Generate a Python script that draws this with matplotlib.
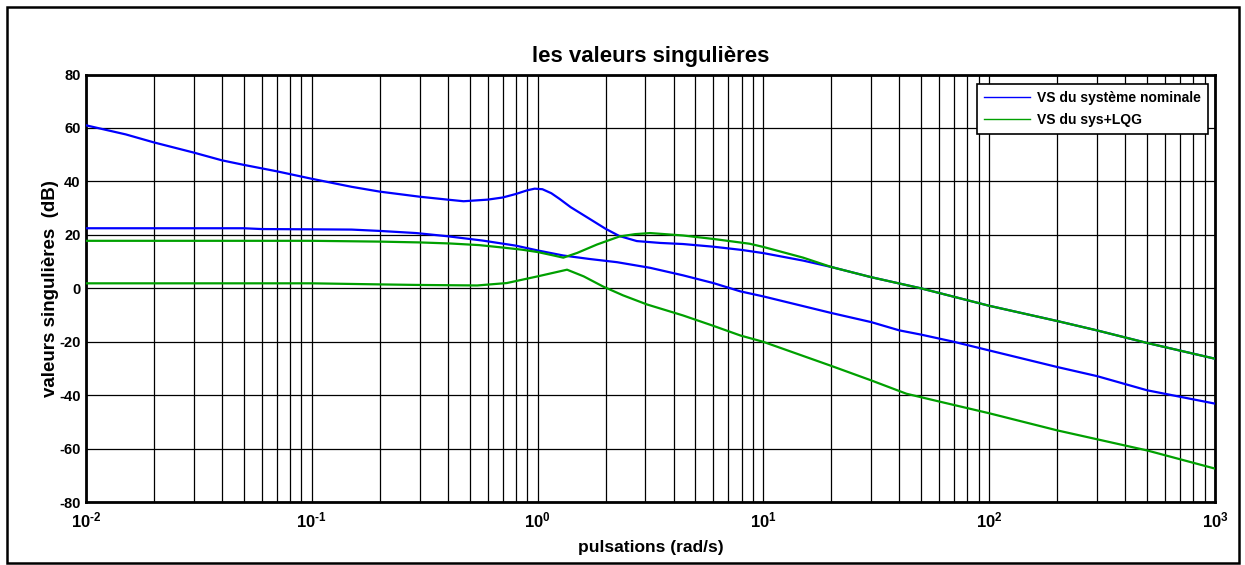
import math
import matplotlib
matplotlib.use("Agg")
import matplotlib.pyplot as plt
from matplotlib.patches import Rectangle
from matplotlib.ticker import LogLocator, FixedLocator, FuncFormatter, NullFormatter

plt.rcParams['font.family'] = ['Liberation Sans', 'DejaVu Sans']
plt.rcParams['font.weight'] = 'bold'
plt.rcParams['axes.unicode_minus'] = False
plt.rcParams['mathtext.fontset'] = 'custom'
plt.rcParams['mathtext.rm'] = 'Liberation Sans:bold'
plt.rcParams['mathtext.bf'] = 'Liberation Sans:bold'
plt.rcParams['mathtext.default'] = 'regular'

# valeurs (rad/s, dB)
w_nom_max = [0.01, 0.015, 0.02, 0.03, 0.04, 0.05, 0.07, 0.1, 0.15, 0.2, 0.3, 0.4, 0.47, 0.6,
             0.7, 0.8, 0.9, 0.97, 1.05, 1.15, 1.25, 1.4, 1.7, 2.0, 2.3, 2.75, 3.5, 4.4, 6, 8,
             10, 15, 20, 30, 50, 100, 200, 300, 500, 1000]
vs_nom_max = [61.0, 57.6, 54.6, 50.8, 47.9, 46.2, 43.8, 41.0, 38.0, 36.2, 34.3, 33.2, 32.6, 33.2,
              34.0, 35.3, 36.7, 37.3, 37.1, 35.6, 33.5, 30.4, 26.0, 22.3, 19.6, 17.7, 17.0, 16.6, 15.6, 14.4,
              13.2, 10.4, 8.0, 4.2, 0.0, -6.5, -12.2, -15.7, -20.4, -26.3]

w_nom_min = [0.01, 0.05, 0.06, 0.1, 0.15, 0.2, 0.29, 0.4, 0.57, 0.8, 1.0, 1.3, 1.7, 2.25,
             3.15, 4.4, 6, 7.9, 10, 20, 30, 40, 50, 70, 100, 200, 300, 500, 1000]
vs_nom_min = [22.5, 22.5, 22.2, 22.1, 22.0, 21.5, 20.7, 19.5, 17.9, 16.0, 14.2, 12.3, 11.0, 9.8,
              7.7, 4.9, 2.0, -1.1, -3.0, -9.2, -12.6, -15.7, -17.3, -20.0, -23.2, -29.4, -32.8, -38.1, -43.1]

w_lqg_max = [0.01, 0.1, 0.2, 0.3, 0.41, 0.55, 0.68, 0.85, 1.0, 1.15, 1.3, 1.5, 1.83, 2.3,
             2.7, 3.15, 4.4, 6, 8.7, 10, 15, 20, 30, 50, 100, 200, 300, 500, 1000]
vs_lqg_max = [17.8, 17.8, 17.5, 17.2, 16.8, 16.2, 15.4, 14.5, 13.6, 12.5, 11.5, 13.3, 16.4, 19.4,
              20.3, 20.7, 19.8, 18.5, 16.7, 15.5, 11.5, 8.0, 4.2, 0.0, -6.5, -12.2, -15.7, -20.4, -26.3]

w_lqg_min = [0.01, 0.1, 0.2, 0.29, 0.54, 0.73, 1.0, 1.35, 1.6, 1.95, 2.39, 3.05, 4.4, 6,
             7.9, 10, 20, 30, 43, 60, 100, 200, 500, 1000]
vs_lqg_min = [1.9, 1.9, 1.5, 1.3, 1.1, 2.0, 4.5, 7.0, 4.5, 0.7, -2.6, -6.0, -10.1, -14.0,
              -17.6, -20.0, -29.0, -34.4, -39.4, -42.3, -46.7, -53.1, -60.6, -67.4]

y_ticks = [-80, -60, -40, -20, 0, 20, 40, 60, 80]

fig = plt.figure(figsize=(12.45, 5.65), dpi=100)
ax = fig.add_axes([0.0691, 0.1110, 0.9068, 0.7571])

# cadre autour de la figure
fig.patches.append(Rectangle((0.006, 0.004), 0.989, 0.984, transform=fig.transFigure,
                             fill=False, edgecolor='black', linewidth=1.8))

blue = '#0000ff'
green = '#00a000'
l1, = ax.semilogx(w_nom_max, vs_nom_max, color=blue, lw=1.6, label='VS du système nominale')
ax.semilogx(w_nom_min, vs_nom_min, color=blue, lw=1.6)
l2, = ax.semilogx(w_lqg_max, vs_lqg_max, color=green, lw=1.6, label='VS du sys+LQG')
ax.semilogx(w_lqg_min, vs_lqg_min, color=green, lw=1.6)

ax.set_xlim(1e-2, 1e3)
ax.set_ylim(-80, 80)
ax.yaxis.set_major_locator(FixedLocator(y_ticks))
ax.xaxis.set_major_locator(LogLocator(base=10, numticks=10))
ax.xaxis.set_minor_locator(LogLocator(base=10, subs=range(2, 10), numticks=100))
ax.xaxis.set_minor_formatter(NullFormatter())


def fmt_pow(x, pos):
    # exposant avec un simple tiret, comme matlab
    e = int(round(math.log10(x)))
    if e < 0:
        return r'$10^{\text{-}%d}$' % (-e)
    return r'$10^{%d}$' % e


ax.xaxis.set_major_formatter(FuncFormatter(fmt_pow))

ax.grid(True, which='major', color='black', lw=0.9, ls='-')
ax.grid(True, which='minor', axis='x', color='black', lw=0.9, ls='-')
for l in ax.get_lines():
    l.set_zorder(3)

for s in ax.spines.values():
    s.set_linewidth(2.0)
ax.tick_params(which='both', length=0)
ax.tick_params(axis='y', labelsize=10.5, pad=4)
ax.tick_params(axis='x', labelsize=12, pad=6)

ax.set_title('les valeurs singulières', fontsize=16, fontweight='bold', pad=9)
ax.set_xlabel('pulsations (rad/s)', fontsize=12.5, fontweight='bold', labelpad=7)
ax.set_ylabel('valeurs singulières  (dB)', fontsize=13.5, fontweight='bold', labelpad=0)

leg = ax.legend(handles=[l1, l2], loc='upper right', bbox_to_anchor=(0.9938, 0.978),
                borderaxespad=0, fancybox=False, framealpha=1, edgecolor='black',
                prop={'size': 10, 'weight': 'bold'}, handlelength=3.3, handletextpad=0.5,
                borderpad=0.5, labelspacing=0.6)
leg.get_frame().set_linewidth(1.2)
for line in leg.get_lines():
    line.set_linewidth(1.0)
leg.set_zorder(5)

fig.savefig('out.png', dpi=100)
